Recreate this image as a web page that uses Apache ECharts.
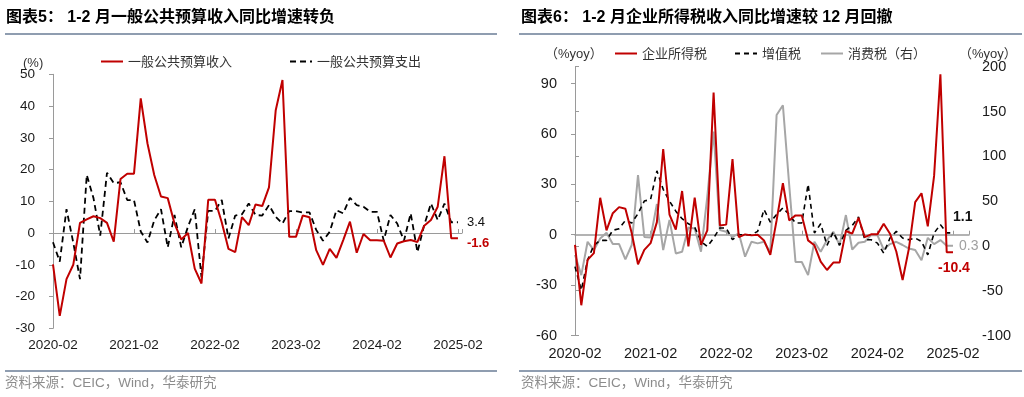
<!DOCTYPE html>
<html>
<head>
<meta charset="utf-8">
<script src="https://cdn.jsdelivr.net/npm/echarts@6.0.0/dist/echarts.min.js"></script>
<style>
  html, body { margin: 0; padding: 0; background: #fff; }
  #main { width: 1024px; height: 397px; }
</style>
</head>
<body>
<div id="main"></div>
<script>
// 月份（1-2 月合并，1 月取 1-2 月值）
var months = [
  '2020-02','2020-03','2020-04','2020-05','2020-06','2020-07','2020-08','2020-09','2020-10','2020-11','2020-12',
  '2021-01','2021-02','2021-03','2021-04','2021-05','2021-06','2021-07','2021-08','2021-09','2021-10','2021-11','2021-12',
  '2022-01','2022-02','2022-03','2022-04','2022-05','2022-06','2022-07','2022-08','2022-09','2022-10','2022-11','2022-12',
  '2023-01','2023-02','2023-03','2023-04','2023-05','2023-06','2023-07','2023-08','2023-09','2023-10','2023-11','2023-12',
  '2024-01','2024-02','2024-03','2024-04','2024-05','2024-06','2024-07','2024-08','2024-09','2024-10','2024-11','2024-12',
  '2025-01','2025-02'
];

// 图表5：一般公共预算收入 / 支出 同比(%)
var revenue = [
  -9.9, -26.1, -14.5, -10.0, 3.2, 4.3, 5.3, 4.7, 3.2, -2.7, 17.0,
  18.7, 18.7, 42.4, 28.2, 18.3, 11.5, 11.0, 3.0, -2.0, 0.0, -11.2, -15.9,
  10.5, 10.5, 3.4, -5.0, -6.0, 5.0, 2.5, 9.0, 8.5, 14.4, 38.7, 48.2,
  -1.2, -1.2, 5.5, 5.0, -5.4, -10.0, -5.0, -7.8, -2.2, 3.6, -6.2, -0.3,
  -2.3, -2.3, -2.4, -7.7, -3.3, -2.6, -2.2, -2.8, 2.3, 4.1, 8.3, 24.2,
  -1.6, -1.6
];
var expenditure = [
  -2.9, -9.0, 7.5, -3.0, -14.5, 18.3, 11.0, -0.8, 19.0, 15.7, 16.0,
  10.4, 10.4, 0.5, -3.0, 4.0, 7.5, -4.5, 5.7, -4.5, 2.0, 7.5, -14.0,
  7.0, 7.0, 10.4, -1.7, 5.5, 5.9, 9.3, 5.7, 5.5, 8.8, 5.1, 3.0,
  6.9, 6.9, 6.5, 6.5, 1.0, -2.4, 0.4, 7.2, 6.2, 11.1, 8.8, 8.3,
  6.7, 6.7, -2.4, 5.7, 3.0, -2.4, 6.2, -6.0, 2.5, 9.3, 4.1, 9.3,
  3.4, 3.4
];

// 图表6：企业所得税 / 增值税（左轴），消费税（右轴）同比(%yoy)
var cit = [
  -6, -42, -15, -11, 22, 2.6, 12.8, 16.4, 15.4, 1, -17.6,
  -9, -5, 7.5, 51, 12, 3, 26, -7, 22, -6, 2.6, 84.6,
  5.5, 6, 45, -1.4, 0.2, -0.4, 0, -3.4, -12, 8.5, 30.6, 8.5,
  11.5, 11.5, -3.4, -6.3, -16, -21, -16.6, -16.6, 2.2, 0.6, 10, -1.4,
  0.2, 0.2, 6.5, 0.6, -10, -27, -8.3, 19.4, 24.7, 5, 35, 95.5,
  -10.4, -10.4
];
var vat = [
  -19, -33, -15, -6.3, -3.4, -3.4, 2.6, 3.6, 8.5, 7, 12.5,
  20, 21, 38, 27, 20, 14, 9.5, 6.5, 4.5, -4, -7, -2,
  4, 4, -3, 0, 0, 0, 2, 15, 7.5, 12, 16, 12,
  7, 7, 30, 1, 6.5, -6.3, 1.6, -6.3, 2.6, 5.5, 10.5, -3,
  -3, -5, -11, -2, 2, -2, -3, -2, -4, -12, 1, 6,
  1.1, 1.1
];
var consumption = [
  -10, -32.6, 4.6, -4.6, 8.3, 14.7, 2, 2, -15, 1, 79,
  10, 9.5, 46.7, -4.6, 29, -8.4, -6.5, 20.6, 19.5, -6.5, 55, 127.5,
  17.7, 15.8, 10, 14, -12, 4.6, 2.8, 4.6, -7, 146, 157, 68,
  -18, -18, -32.6, 4.6, -6.5, 6.5, 15.8, 1, 34.4, -4, 3.5, 4.6,
  12, 12, -4, 2, 4.6, 1, -3, -4.6, -16, 9, 2, 6.5,
  0.3, 0.3
];

var FONT = '"Liberation Sans", Arial, "Noto Sans CJK SC", sans-serif';
var RED = '#c00000', GRAY = '#a6a6a6', AXIS = '#9a9a9a';

function pairs(arr) {
  return arr.map(function (v, i) { return [i, v]; });
}
function monthLabel(v) {
  return months[v] || '';
}
function endValue(p) {
  return String(p.value[1]);
}

// 底部日期轴（无轴线）
function labelAxis(grid, max, size, margin) {
  return {
    gridIndex: grid, type: 'value', min: 0, max: max, interval: 12,
    axisLine: { show: false, onZero: false },
    axisTick: { show: false },
    splitLine: { show: false },
    axisLabel: { formatter: monthLabel, margin: margin, fontSize: size, color: '#1a1a1a', showMaxLabel: false }
  };
}
// 零轴线
function zeroAxis(grid, max, yIndex, width) {
  return {
    gridIndex: grid, type: 'value', min: 0, max: max, interval: 12,
    axisLine: { onZero: true, onZeroAxisIndex: yIndex, lineStyle: { color: AXIS, width: width } },
    axisTick: { show: true, length: 4, lineStyle: { color: AXIS } },
    axisLabel: { show: false },
    splitLine: { show: false }
  };
}
function yAxisOf(grid, min, max, interval, pos, margin, size) {
  return {
    gridIndex: grid, type: 'value', position: pos, min: min, max: max, interval: interval,
    axisLine: { show: true, lineStyle: { color: AXIS } },
    axisTick: { show: true, length: 4, lineStyle: { color: AXIS } },
    splitLine: { show: false },
    axisLabel: { margin: margin, fontSize: size, color: '#1a1a1a', showMaxLabel: max % interval === 0 }
  };
}
// 图例：只画线，不画圆点
function legendAt(name, left, top) {
  return {
    data: [name], left: left, top: top, padding: 0,
    itemWidth: 22, itemHeight: 14, selectedMode: false,
    itemStyle: { opacity: 0, color: 'transparent', borderWidth: 0 },
    textStyle: { fontSize: 13, color: '#333', fontFamily: '"Noto Sans CJK SC", sans-serif' }
  };
}
function text(str, x, y, font, fill) {
  return { type: 'text', silent: true, style: { text: str, x: x, y: y, font: font, fill: fill || '#000', verticalAlign: 'middle' } };
}
function hline(x1, x2, y) {
  return { type: 'line', silent: true, shape: { x1: x1, y1: y, x2: x2, y2: y }, style: { stroke: '#6a7c96', lineWidth: 1.5 } };
}

var TITLE_FONT = 'bold 16px "Liberation Sans", "Noto Sans CJK SC", sans-serif';
var SRC_FONT = '13.5px "Liberation Sans", "Noto Sans CJK SC", sans-serif';
var UNIT_FONT = '13px "Liberation Sans", "Noto Sans CJK SC", sans-serif';

var chart = echarts.init(document.getElementById('main'));
chart.setOption({
  animation: false,
  textStyle: { fontFamily: FONT },
  grid: [
    { left: 53, right: 1024 - 462, top: 74.3, bottom: 68.7 },
    { left: 575, right: 1024 - 969, top: 66.7, bottom: 61.5 }
  ],
  xAxis: [
    labelAxis(0, 60.6, 13.5, 10),
    zeroAxis(0, 60.6, 0, 1),
    labelAxis(1, 62.54, 14.5, 11),
    zeroAxis(1, 62.54, 1, 1.5)
  ],
  yAxis: [
    yAxisOf(0, -30, 50, 10, 'left', 18, 13.5),
    yAxisOf(1, -60, 100, 30, 'left', 18, 14.5),
    yAxisOf(1, -100, 200, 50, 'right', 13, 14.5)
  ],
  legend: [
    legendAt('一般公共预算收入', 100, 55),
    legendAt('一般公共预算支出', 289, 55),
    legendAt('企业所得税', 614, 47),
    legendAt('增值税', 734, 47),
    legendAt('消费税（右）', 820, 47)
  ],
  graphic: [
    text('图表5： 1-2 月一般公共预算收入同比增速转负', 6, 18, TITLE_FONT),
    text('图表6： 1-2 月企业所得税收入同比增速较 12 月回撤', 521, 18, TITLE_FONT),
    hline(5, 497, 34), hline(519, 1022, 34),
    hline(5, 497, 371), hline(519, 1022, 371),
    text('资料来源：CEIC，Wind，华泰研究', 5, 383, SRC_FONT, '#8c8c8c'),
    text('资料来源：CEIC，Wind，华泰研究', 521, 383, SRC_FONT, '#8c8c8c'),
    text('(%)', 23, 63, UNIT_FONT, '#333'),
    text('（%yoy）', 545, 54, UNIT_FONT, '#333'),
    text('（%yoy）', 959, 54, UNIT_FONT, '#333')
  ],
  series: [
    {
      name: '一般公共预算支出', type: 'line', xAxisIndex: 0, yAxisIndex: 0,
      data: pairs(expenditure), symbol: 'none', z: 3,
      lineStyle: { color: '#000', width: 1.8, type: [6, 4] }, itemStyle: { color: '#000' },
      endLabel: { show: true, formatter: endValue, color: '#111', fontSize: 13, distance: 9 }
    },
    {
      name: '一般公共预算收入', type: 'line', xAxisIndex: 0, yAxisIndex: 0,
      data: pairs(revenue), symbol: 'none', z: 4,
      lineStyle: { color: RED, width: 2 }, itemStyle: { color: RED },
      endLabel: { show: true, formatter: endValue, color: RED, fontWeight: 'bold', fontSize: 13, distance: 9, offset: [0, 5] }
    },
    {
      name: '消费税（右）', type: 'line', xAxisIndex: 2, yAxisIndex: 2,
      data: pairs(consumption), symbol: 'none', z: 2,
      lineStyle: { color: GRAY, width: 2 }, itemStyle: { color: GRAY },
      endLabel: { show: true, formatter: endValue, color: '#a0a0a0', fontSize: 14, distance: 6, offset: [0, 1] }
    },
    {
      name: '增值税', type: 'line', xAxisIndex: 2, yAxisIndex: 1,
      data: pairs(vat), symbol: 'none', z: 3,
      lineStyle: { color: '#000', width: 1.6, type: [5, 4] }, itemStyle: { color: '#000' },
      endLabel: { show: true, formatter: endValue, color: '#111', fontWeight: 'bold', fontSize: 14, distance: 0, offset: [0, -16] }
    },
    {
      name: '企业所得税', type: 'line', xAxisIndex: 2, yAxisIndex: 1,
      data: pairs(cit), symbol: 'none', z: 4,
      lineStyle: { color: RED, width: 2 }, itemStyle: { color: RED },
      endLabel: { show: true, formatter: endValue, color: RED, fontWeight: 'bold', fontSize: 14, distance: 0, offset: [-15, 16] }
    }
  ]
});
</script>
</body>
</html>
